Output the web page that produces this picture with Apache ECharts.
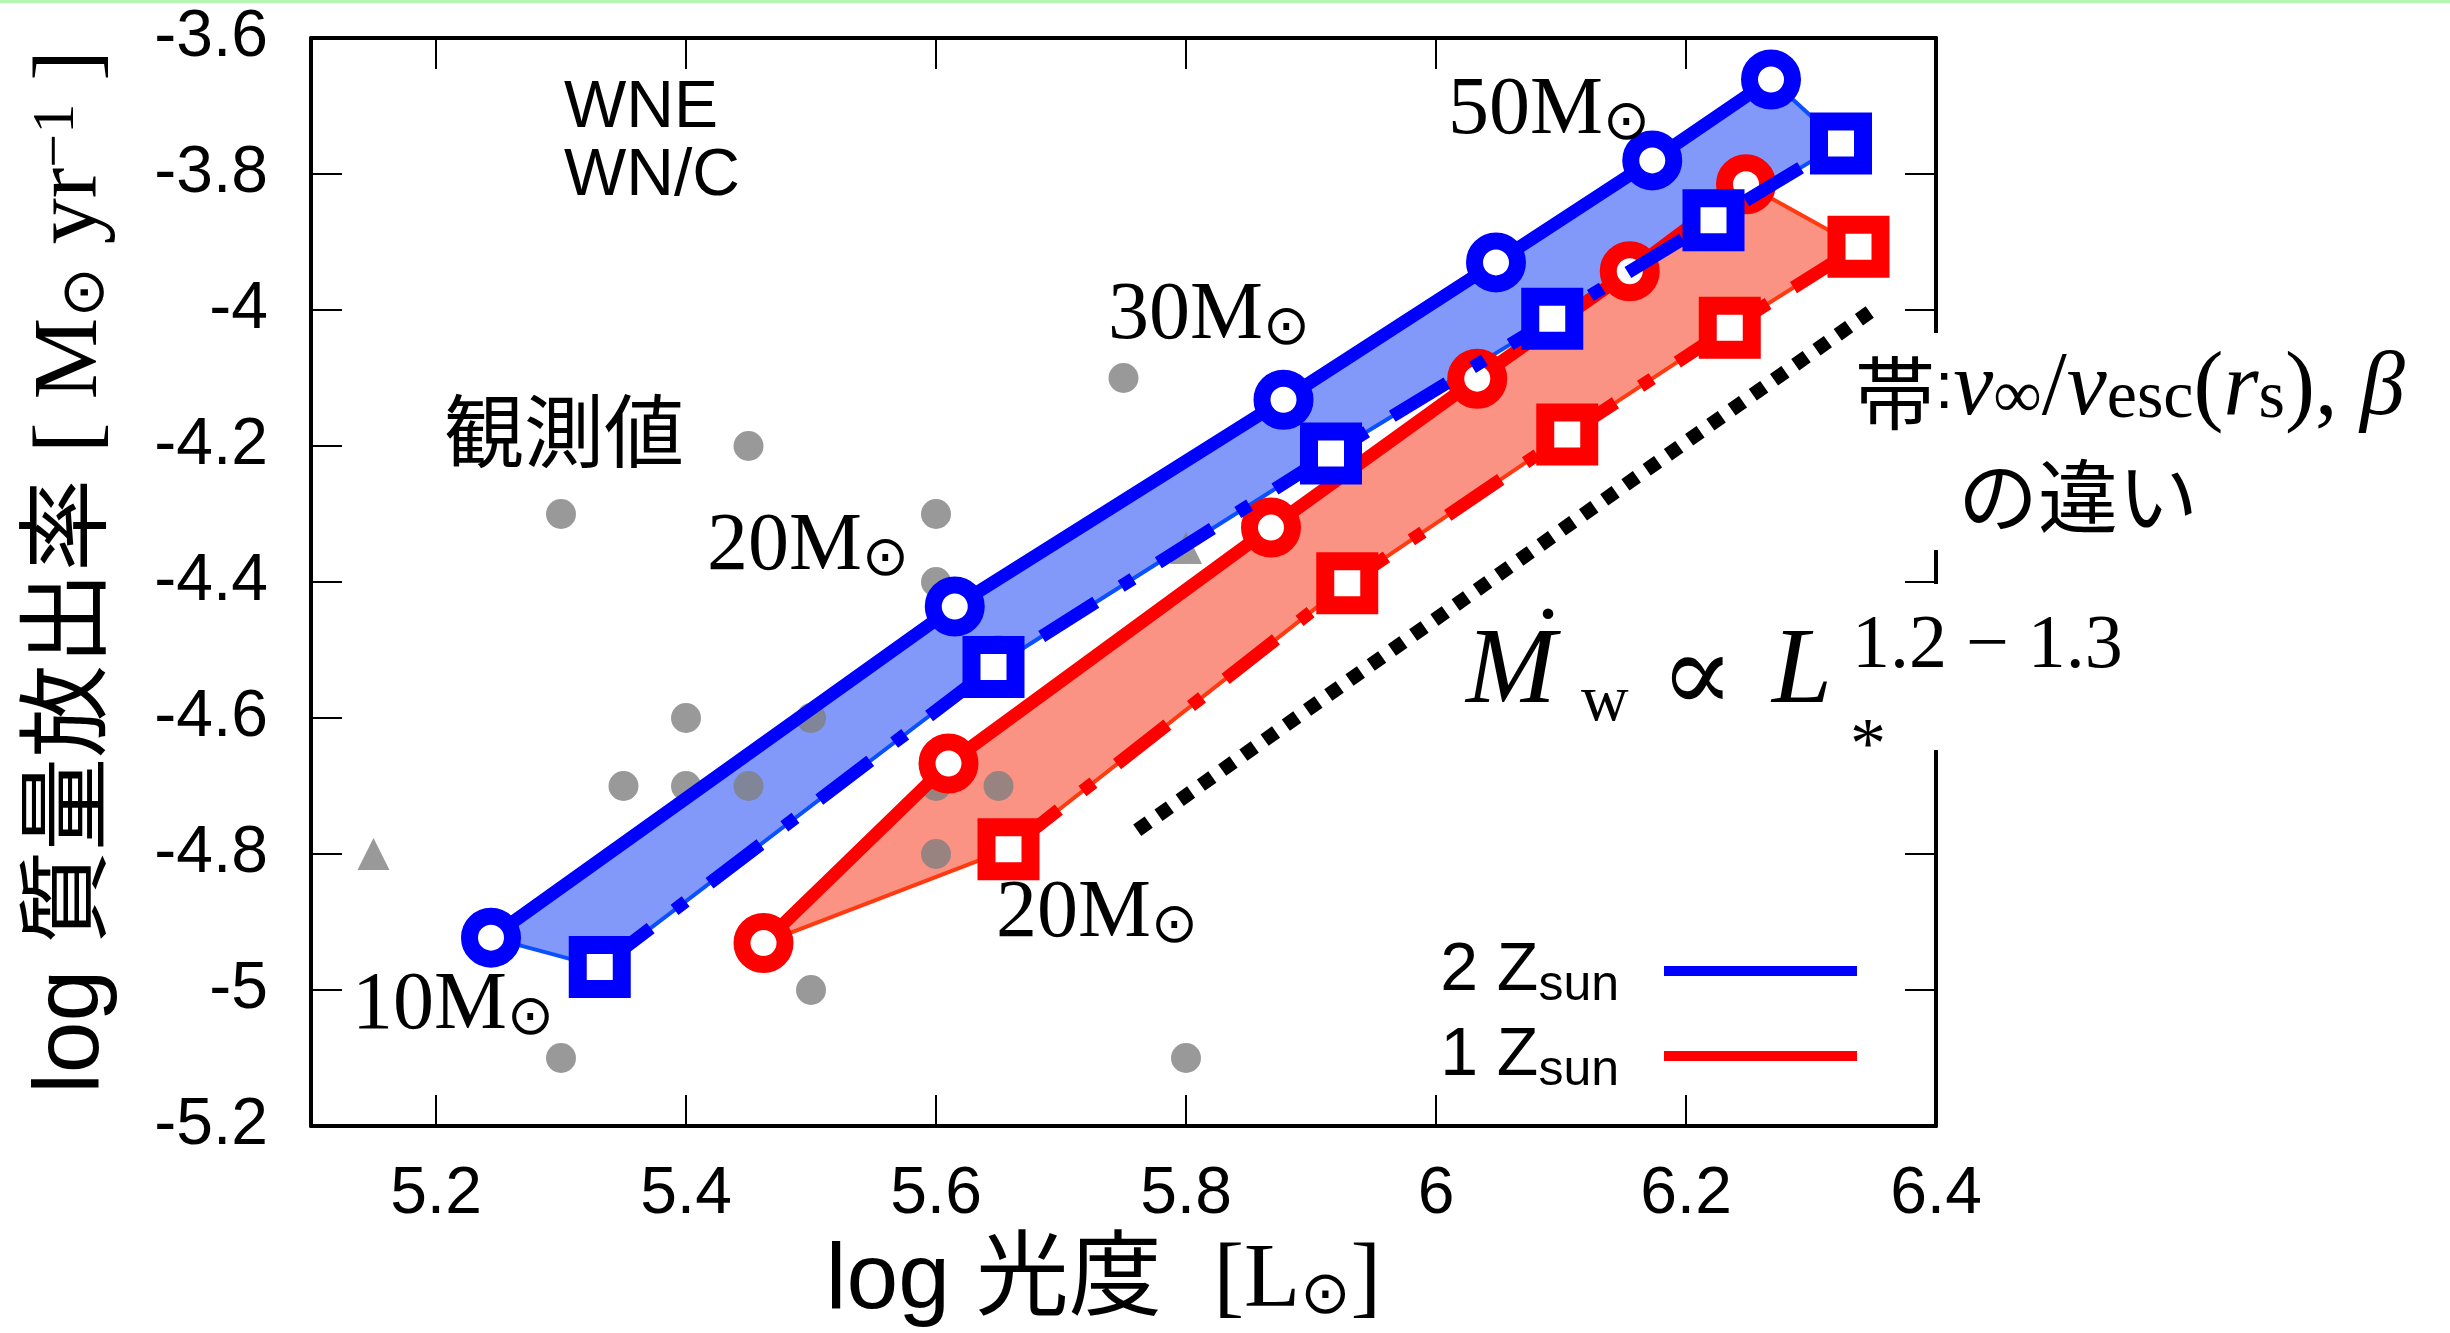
<!DOCTYPE html>
<html>
<head>
<meta charset="utf-8">
<script src="https://cdn.jsdelivr.net/npm/echarts@6/dist/echarts.min.js"></script>
<style>
html,body{margin:0;padding:0;background:#fff;}
#chart{width:2450px;height:1333px;}
</style>
</head>
<body>
<div id="chart"></div>
<script>
// ---------- data ----------
const xTicks = [5.2, 5.4, 5.6, 5.8, 6.0, 6.2, 6.4];
const yTicks = [-5.2, -5.0, -4.8, -4.6, -4.4, -4.2, -4.0, -3.8, -3.6];

// 2 Zsun models (circles: solid, squares: dash-dot)
const blueCircX = [5.244, 5.615, 5.878, 6.048, 6.173, 6.268];
const blueCircY = [-4.923, -4.436, -4.132, -3.930, -3.780, -3.661];
const blueSqX = [5.331, 5.646, 5.916, 6.093, 6.222, 6.324];
const blueSqY = [-4.966, -4.525, -4.211, -4.013, -3.868, -3.755];

// 1 Zsun models
const redCircX = [5.462, 5.610, 5.868, 6.033, 6.155, 6.248];
const redCircY = [-4.931, -4.667, -4.320, -4.101, -3.943, -3.815];
const redSqX = [5.658, 5.929, 6.105, 6.235, 6.338];
const redSqY = [-4.793, -4.402, -4.183, -4.026, -3.907];

// observed WR stars (gray)
const obsX = [5.75, 5.45, 5.30, 5.60, 5.60, 5.65, 5.40, 5.50, 5.35, 5.40, 5.45, 5.60, 5.65, 5.60, 5.50, 5.30, 5.80];
const obsY = [-4.1, -4.2, -4.3, -4.3, -4.4, -4.5, -4.6, -4.6, -4.7, -4.7, -4.7, -4.7, -4.7, -4.8, -5.0, -5.1, -5.1];
const obsTriX = [5.15, 5.80];
const obsTriY = [-4.8, -4.35];

// Mdot ∝ L^1.3 guide line
const fitX = [5.761, 6.347];
const fitY = [-4.765, -4.003];

// ---------- helpers ----------
const zip = (xs, ys) => xs.map((x, i) => [x, ys[i]]);
const SANS = "'Liberation Sans', 'Noto Sans CJK JP', sans-serif";
const SERIF = "'Liberation Serif', 'DejaVu Serif', serif";
const CJK = "'Noto Sans CJK JP', sans-serif";
const SYM = "'DejaVu Sans', sans-serif";

function polyRender(fill, stroke) {
  return function (params, api) {
    if (params.dataIndexInside !== 0) return null;
    const pts = [];
    for (let i = 0; i < params.dataInsideLength; i++) {
      pts.push(api.coord([api.value(0, i), api.value(1, i)]));
    }
    return {
      type: 'polygon',
      shape: { points: pts },
      style: { fill: fill, stroke: stroke, lineWidth: 4, lineJoin: 'round' }
    };
  };
}

const bluePoly = zip(blueCircX, blueCircY).concat(zip(blueSqX, blueSqY).reverse());
const redPoly = zip(redCircX, redCircY).concat(zip(redSqX, redSqY).reverse());

const massRich = {
  m: { fontFamily: SERIF, fontSize: 82, lineHeight: 82 },
  o: { fontFamily: SYM, fontSize: 56, lineHeight: 32, verticalAlign: 'bottom' }
};
function massLabel(x, y, n) {
  return { type: 'text', x: x, y: y, z: 110,
    style: { text: '{m|' + n + 'M}{o|⊙}', rich: massRich, fill: '#000', align: 'left', verticalAlign: 'middle' } };
}
function plain(x, y, str, family, size, opts) {
  opts = opts || {};
  return { type: 'text', x: x, y: y, z: 110,
    style: { text: str, fontFamily: family, fontSize: size, fontStyle: opts.italic ? 'italic' : 'normal',
      fill: '#000', align: opts.align || 'left', verticalAlign: 'middle' } };
}

const titleRich = {
  a: { fontFamily: SANS, fontSize: 93, lineHeight: 90, color: '#000' },
  b: { fontFamily: SERIF, fontSize: 92, lineHeight: 90, color: '#000' },
  o: { fontFamily: SYM, fontSize: 60, lineHeight: 30, verticalAlign: 'bottom', color: '#000' },
  p: { fontFamily: SERIF, fontSize: 60, lineHeight: 50, verticalAlign: 'top', color: '#000' }
};

const lineRich = {
  k: { fontFamily: CJK, fontSize: 80, lineHeight: 60, verticalAlign: 'bottom' },
  c: { fontFamily: "'Liberation Sans', sans-serif", fontSize: 66, lineHeight: 86 },
  i: { fontFamily: SERIF, fontSize: 90, lineHeight: 86, fontStyle: 'italic' },
  r: { fontFamily: SERIF, fontSize: 90, lineHeight: 86 },
  s: { fontFamily: SERIF, fontSize: 68, lineHeight: 36, verticalAlign: 'bottom' }
};

const chart = echarts.init(document.getElementById('chart'), null, { renderer: 'canvas' });

const axisCommon = {
  type: 'value',
  axisLine: { show: true, onZero: false, lineStyle: { color: '#000', width: 4 } },
  splitLine: { show: false }
};

chart.setOption({
  animation: false,
  backgroundColor: '#fff',
  grid: { left: 311, top: 38, width: 1625, height: 1088, containLabel: false, outerBoundsMode: 'none' },
  legend: {
    orient: 'vertical', align: 'right', right: 593, top: 937, padding: 0,
    itemWidth: 193, itemHeight: 10, itemGap: 11, icon: 'rect', selectedMode: false,
    data: [
      { name: '2 Zsun', itemStyle: { color: '#0000ff', borderWidth: 0, borderColor: 'transparent' } },
      { name: '1 Zsun', itemStyle: { color: '#ff0000', borderWidth: 0, borderColor: 'transparent' } }
    ],
    formatter: function (name) { return '{n|' + name.charAt(0) + ' Z}{s|sun}'; },
    textStyle: {
      color: '#000', padding: [0, 40, 0, 0],
      rich: {
        n: { fontFamily: SANS, fontSize: 68, lineHeight: 80, color: '#000' },
        s: { fontFamily: SANS, fontSize: 50, lineHeight: 10, verticalAlign: 'bottom', color: '#000' }
      }
    }
  },
  xAxis: [
    Object.assign({}, axisCommon, {
      min: 5.1, max: 6.4, position: 'bottom',
      axisTick: { show: true, inside: true, length: 31, customValues: xTicks, lineStyle: { color: '#000', width: 2 } },
      axisLabel: { show: true, customValues: xTicks, margin: 36, fontFamily: SANS, fontSize: 66, lineHeight: 66, color: '#000',
        formatter: function (v) { return String(v); } },
      name: '{a|log 光度  }{b|[L}{o|⊙}{b|]}',
      nameLocation: 'middle', nameGap: 111,
      nameTextStyle: { rich: titleRich, padding: [0, 40, 0, 0] }
    }),
    Object.assign({}, axisCommon, {
      min: 5.1, max: 6.4, position: 'top',
      axisTick: { show: true, inside: true, length: 31, customValues: xTicks, lineStyle: { color: '#000', width: 2 } },
      axisLabel: { show: false }
    })
  ],
  yAxis: [
    Object.assign({}, axisCommon, {
      min: -5.2, max: -3.6, position: 'left',
      axisTick: { show: true, inside: true, length: 31, customValues: yTicks, lineStyle: { color: '#000', width: 2 } },
      axisLabel: { show: true, customValues: yTicks, margin: 43, fontFamily: SANS, fontSize: 66, color: '#000',
        formatter: function (v) { return String(v); } },
      name: '{a|log 質量放出率 }{b|[ M}{o|⊙}{b| yr}{p|−1}{b| ]}',
      nameLocation: 'middle', nameGap: 194,
      nameTextStyle: { rich: titleRich, padding: [0, 0, 0, 20] }
    }),
    Object.assign({}, axisCommon, {
      min: -5.2, max: -3.6, position: 'right',
      axisTick: { show: true, inside: true, length: 31, customValues: yTicks, lineStyle: { color: '#000', width: 2 } },
      axisLabel: { show: false }
    })
  ],
  series: [
    { type: 'custom', name: 'band1', z: 1, renderItem: polyRender('#fa9383', '#ff3a10'), data: redPoly, silent: true },
    { type: 'custom', name: 'band2', z: 1, renderItem: polyRender('#8399f9', '#0a50ff'), data: bluePoly, silent: true },
    { type: 'scatter', name: 'obs', z: 2, symbol: 'circle', symbolSize: 30,
      itemStyle: { color: '#808080' }, data: zip(obsX, obsY) },
    { type: 'scatter', name: 'obsTri', z: 2, symbol: 'triangle', symbolSize: 32,
      itemStyle: { color: '#808080' }, data: zip(obsTriX, obsTriY) },
    { type: 'line', name: 'fit', z: 3, symbol: 'none', data: zip(fitX, fitY),
      lineStyle: { color: '#000', width: 14, type: [14, 12], cap: 'butt' } },
    { type: 'line', name: '1 Zsun', z: 4, data: zip(redCircX, redCircY),
      symbol: 'circle', symbolSize: 43,
      itemStyle: { color: '#ffffff', borderColor: '#ff0000', borderWidth: 17 },
      lineStyle: { color: '#ff0000', width: 13 } },
    { type: 'line', name: '1 Zsun sq', z: 4, data: zip(redSqX, redSqY),
      symbol: 'rect', symbolSize: 44,
      itemStyle: { color: '#ffffff', borderColor: '#ff0000', borderWidth: 18 },
      lineStyle: { color: '#ff0000', width: 13, type: [64, 30, 14, 30] } },
    { type: 'line', name: '2 Zsun', z: 5, data: zip(blueCircX, blueCircY),
      symbol: 'circle', symbolSize: 43,
      itemStyle: { color: '#ffffff', borderColor: '#0000ff', borderWidth: 17 },
      lineStyle: { color: '#0000ff', width: 13 } },
    { type: 'line', name: '2 Zsun sq', z: 5, data: zip(blueSqX, blueSqY),
      symbol: 'rect', symbolSize: 44,
      itemStyle: { color: '#ffffff', borderColor: '#0000ff', borderWidth: 18 },
      lineStyle: { color: '#0000ff', width: 13, type: [64, 30, 14, 30] } }
  ],
  graphic: [
    { type: 'rect', z: 100, shape: { x: 0, y: 0, width: 2450, height: 3 }, style: { fill: '#b3f7b3' } },
    { type: 'rect', z: 100, shape: { x: 1898, y: 333, width: 552, height: 217 }, style: { fill: '#fff' } },
    { type: 'rect', z: 100, shape: { x: 1500, y: 584, width: 640, height: 166 }, style: { fill: '#fff' } },
    plain(564, 109, 'WNE', SANS, 66),
    plain(564, 177, 'WN/C', SANS, 66),
    plain(564, 431, '観測値', CJK, 80, { align: 'center' }),
    massLabel(707, 547, '20'),
    massLabel(1108, 316, '30'),
    massLabel(1448, 111, '50'),
    massLabel(352, 1006, '10'),
    massLabel(996, 914, '20'),
    { type: 'text', x: 1855, y: 390, z: 110,
      style: { text: '{k|帯}{c|:}{i|v}{s|∞}{r|/}{i|v}{s|esc}{r|(}{i|r}{s|s}{r|), }{i|β}',
        rich: lineRich, fill: '#000', align: 'left', verticalAlign: 'middle' } },
    plain(1958, 496, 'の違い', CJK, 80),
    plain(1548, 648, '˙', SERIF, 100, { align: 'center' }),
    plain(1466, 674, 'M', SERIF, 108, { italic: true }),
    plain(1581, 703, 'w', SERIF, 66),
    plain(1660, 682, '∝', "'DejaVu Serif', serif", 110),
    plain(1772, 674, 'L', SERIF, 108, { italic: true }),
    plain(1850, 748, '*', SERIF, 72),
    plain(1852, 647, '1.2 − 1.3', SERIF, 76)
  ]
});
</script>
</body>
</html>
